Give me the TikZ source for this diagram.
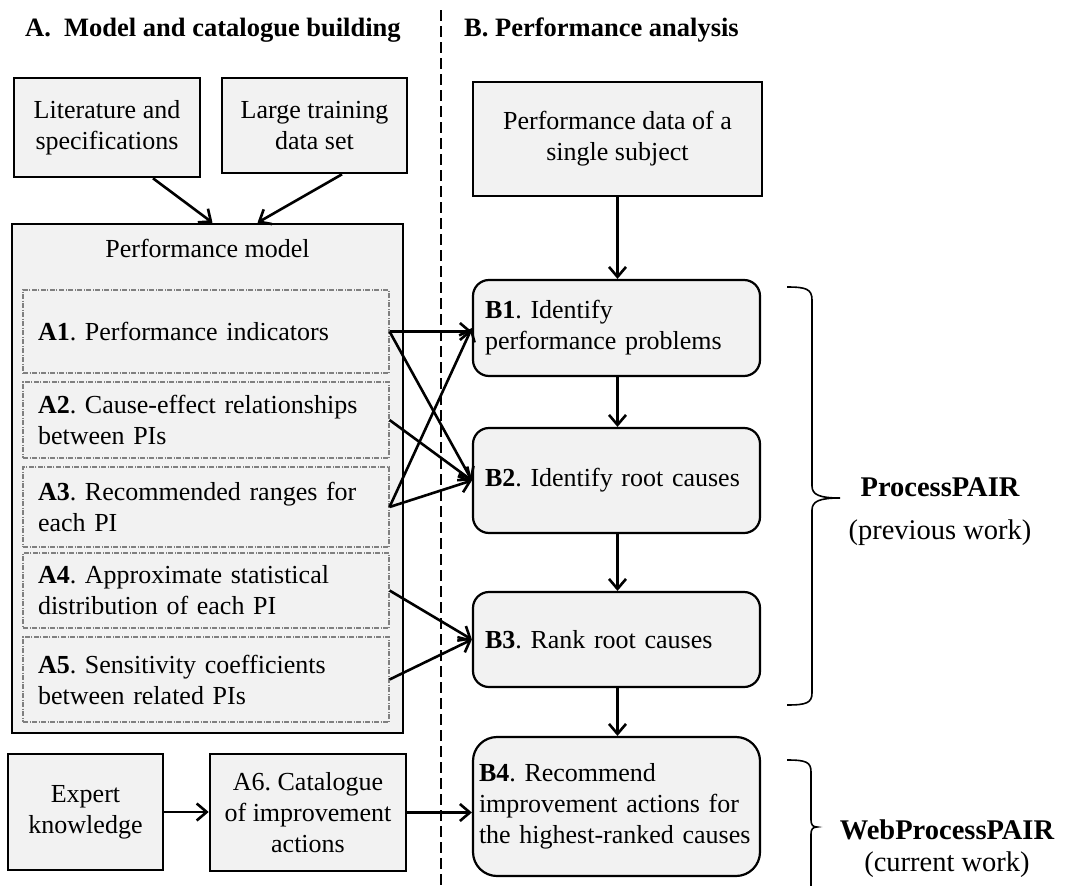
\documentclass[tikz,border=0pt]{standalone}
\usepackage{fontspec}
\setmainfont{Liberation Serif}
\usetikzlibrary{arrows.meta}
\definecolor{boxgray}{HTML}{F2F2F2}
\frenchspacing
\begin{document}
\begin{tikzpicture}[x=1pt,y=-1pt,
  every node/.style={font=\fontsize{26}{31}\selectfont, inner sep=0pt},
  sqbox/.style={draw, line width=2.6pt, fill=boxgray, align=center},
  pibox/.style={draw=gray, line width=1.1pt, dash pattern=on 5pt off 1.5pt on 1pt off 1.5pt, fill=boxgray, text width=336pt, align=left, minimum width=366pt},
  rbox/.style={draw, line width=2.2pt, fill=boxgray, rounded corners=16pt, minimum width=287pt, text width=263pt, align=left},
  conn/.style={line width=2.6pt, -{Straight Barb[length=10pt,width=17pt]}},
  hdr/.style={font=\fontsize{26.5}{31}\selectfont\bfseries, anchor=base west},
  side/.style={font=\fontsize{28.5}{34}\selectfont},
  brace/.style={line width=1.6pt},
  sep/.style={line width=1.8pt, dash pattern=on 11pt off 5pt}
]
\useasboundingbox[fill=white] (0,0) rectangle (1071,886);

% separator
\coordinate (dtop) at (441,10);
\coordinate (dbot) at (441,886);
\draw[sep] (dtop) -- (dbot);

% headers
\node[hdr] (ha) at (25,36) {A.\ \ Model and catalogue building};
\node[hdr] (hb) at (464,36) {B. Performance analysis};

% section A
\node[sqbox, minimum width=186pt, minimum height=99pt] (lit) at (107,127.5) {Literature and\\specifications};
\node[sqbox, minimum width=185pt, minimum height=95pt] (large) at (314.5,125.5) {Large training\\data set};
\node[sqbox, minimum width=391pt, minimum height=509pt] (pm) at (207.5,478.5) {};
\node (pmt) at (207.5,248) {Performance model};
\node[pibox, minimum height=83pt] (a1) at (206,331.5) {\textbf{A1}. Performance indicators};
\node[pibox, minimum height=76pt] (a2) at (206,420) {\textbf{A2}. Cause-effect relationships\\between PIs};
\node[pibox, minimum height=80pt] (a3) at (206,507) {\textbf{A3}. Recommended ranges for\\each PI};
\node[pibox, minimum height=75pt] (a4) at (206,590.5) {\textbf{A4}. Approximate statistical\\distribution of each PI};
\node[pibox, minimum height=85pt] (a5) at (206,679.5) {\textbf{A5}. Sensitivity coefficients\\between related PIs};
\node[sqbox, minimum width=155pt, minimum height=116pt] (expert) at (85.5,812) {Expert\\knowledge};
\node[sqbox, minimum width=196pt, minimum height=117pt] (a6) at (308,812.5) {A6. Catalogue\\of improvement\\actions};

% section B
\node[sqbox, minimum width=289pt, minimum height=114pt] (pdata) at (617.5,139) {Performance data of a\\single subject};
\node[rbox, minimum height=96pt] (b1) at (616.5,328) {\textbf{B1}. Identify\\performance problems};
\node[rbox, minimum height=105pt] (b2) at (616.5,480.5) {\textbf{B2}. Identify root causes};
\node[rbox, minimum height=95pt] (b3) at (616.5,639.5) {\textbf{B3}. Rank root causes};
\node[rbox, minimum height=139pt, text width=275pt, rounded corners=24pt] (b4) at (616.5,806.5) {\textbf{B4}. Recommend\\improvement actions for\\the highest-ranked causes};

% connectors A
\draw[conn] ([xshift=46pt]lit.south) -- ([xshift=5pt]pm.north);
\draw[conn] ([xshift=27.5pt]large.south) -- ([xshift=50pt]pm.north);
\draw[conn] (expert.east) -- (expert.east -| a6.west);
\draw[conn] (a6.east) -- (a6.east -| b4.west);

% connectors A -> B
\draw[conn] (a1.east) -- (a1.east -| b1.west);
\draw[conn] (a1.east) -- (b2.west);
\draw[conn] (a2.east) -- (b2.west);
\draw[conn] (a3.east) -- (b1.west);
\draw[conn] (a3.east) -- (b2.west);
\draw[conn] (a4.east) -- (b3.west);
\draw[conn] (a5.east) -- (b3.west);

% connectors B
\draw[conn] (pdata.south) -- (pdata.south |- b1.north);
\draw[conn] (pdata.south |- b1.south) -- (pdata.south |- b2.north);
\draw[conn] (pdata.south |- b2.south) -- (pdata.south |- b3.north);
\draw[conn] (pdata.south |- b3.south) -- (pdata.south |- b4.north);

% braces
\draw[brace] (787,287) .. controls (806,287) and (812,289) .. (812,300) -- (812,486)
  .. controls (812,495) and (820,498) .. (840,498)
  .. controls (820,498) and (812,501) .. (812,510) -- (812,693)
  .. controls (812,703) and (806,705) .. (787,705);
\draw[brace] (787,760) .. controls (806,760) and (811,762) .. (811,772) -- (811,820)
  .. controls (811,825) and (813,827) .. (817,827)
  .. controls (813,827) and (811,829) .. (811,834) -- (811,886);

% side labels
\node[side, font=\fontsize{28.5}{34}\selectfont\bfseries] (pp) at (940,487) {ProcessPAIR};
\node[side] (ppw) at (940,533) {(previous work)};
\node[side, font=\fontsize{28.5}{34}\selectfont\bfseries] (wpp) at (947,830) {WebProcessPAIR};
\node[side] (wppw) at (947,865) {(current work)};
\end{tikzpicture}
\end{document}
